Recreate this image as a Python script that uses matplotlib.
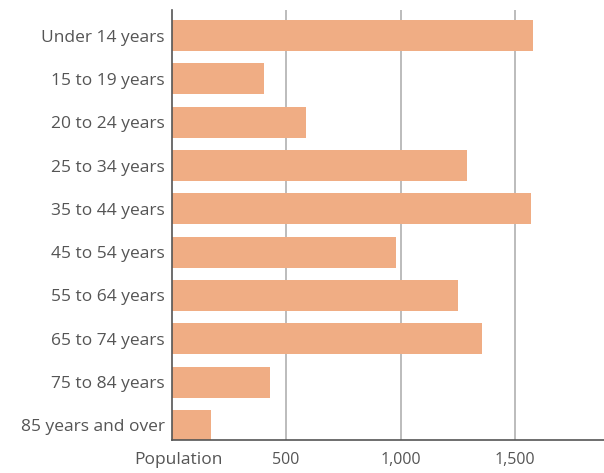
import matplotlib
matplotlib.use('Agg')
import matplotlib.pyplot as plt
from matplotlib.ticker import FuncFormatter

plt.rcParams['font.family'] = ['Open Sans', 'DejaVu Sans']

age_groups = ['Under 14 years', '15 to 19 years', '20 to 24 years', '25 to 34 years',
              '35 to 44 years', '45 to 54 years', '55 to 64 years', '65 to 74 years',
              '75 to 84 years', '85 years and over']
population = [1577, 403, 587, 1289, 1567, 980, 1249, 1353, 430, 171]
xticks = [500, 1000, 1500]

bar_color = '#F0AD84'
text_color = '#555555'

fig = plt.figure(figsize=(6.04, 4.73), dpi=100)
ax = fig.add_axes([0.284, 0.0698, 0.716, 0.909])

pos = list(range(len(age_groups)))
ax.barh(pos, population, height=0.72, color=bar_color, zorder=2)

ax.set_yticks(pos)
ax.set_yticklabels(age_groups, fontsize=12.5, color=text_color)
ax.set_ylim(9.336, -0.59)

ax.set_xlim(0, 1887)
ax.set_xticks(xticks)
ax.xaxis.set_major_formatter(FuncFormatter(lambda v, p: '{:,.0f}'.format(v)))
ax.tick_params(axis='x', labelsize=11.5, colors=text_color, length=0, pad=9)
ax.tick_params(axis='y', length=0, pad=5)
ax.grid(axis='x', color='#b0b0b0', linewidth=1.2, zorder=0)

for s in ['top', 'right']:
    ax.spines[s].set_visible(False)
for s in ['left', 'bottom']:
    ax.spines[s].set_color('#555555')
    ax.spines[s].set_linewidth(1.2)

fig.text(178 / 604, 1 - 460 / 473, 'Population', ha='center', va='center',
         fontsize=12.5, color=text_color)

fig.savefig('out.png', dpi=100)
